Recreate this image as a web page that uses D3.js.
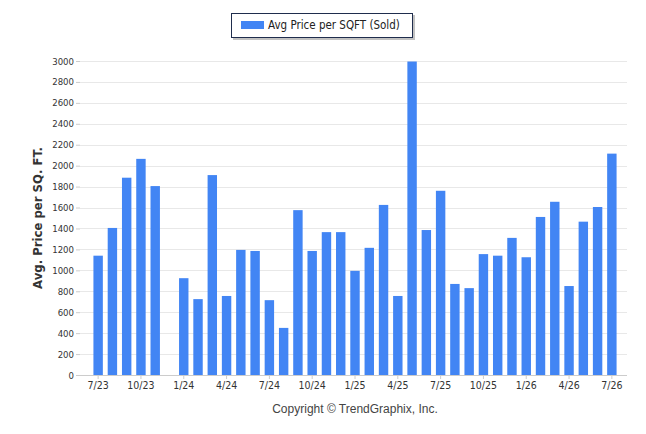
<!DOCTYPE html>
<html>
<head>
<meta charset="utf-8">
<script src="https://cdn.jsdelivr.net/npm/d3@7"></script>
<style>
    body { margin: 0; background: #fff; }
    svg text { font-family: Tahoma, "DejaVu Sans Condensed", "DejaVu Sans", sans-serif; }
</style>
</head>
<body>
<div id="chart"></div>
<script>
// monthly periods 7/23 .. 7/26
const months = [
    "7/23", "8/23", "9/23", "10/23", "11/23", "12/23",
    "1/24", "2/24", "3/24", "4/24", "5/24", "6/24", "7/24", "8/24", "9/24", "10/24", "11/24", "12/24",
    "1/25", "2/25", "3/25", "4/25", "5/25", "6/25", "7/25", "8/25", "9/25", "10/25", "11/25", "12/25",
    "1/26", "2/26", "3/26", "4/26", "5/26", "6/26", "7/26"
];
const avgPriceSold = [
    1140, 1405, 1885, 2065, 1805, null,
    925, 725, 1910, 755, 1195, 1185, 715, 450, 1575, 1185, 1365, 1365,
    995, 1215, 1625, 755, 2995, 1385, 1760, 870, 830, 1155, 1140, 1310,
    1125, 1510, 1655, 850, 1465, 1605, 2115
];
const xTickLabels = ["7/23", "10/23", "1/24", "4/24", "7/24", "10/24", "1/25", "4/25", "7/25", "10/25", "1/26", "4/26", "7/26"];
const yTicks = d3.range(0, 3001, 200);

const width = 646;
const height = 434;
const margin = { top: 61, right: 19, bottom: 59, left: 80 };
const barColor = "#4285f4";

const svg = d3.select("#chart")
    .append("svg")
    .attr("width", width)
    .attr("height", height)
    .attr("viewBox", [0, 0, width, height]);

const data = months.map((m, i) => ({ month: m, value: avgPriceSold[i] }));

const xScale = d3.scaleBand()
    .domain(months)
    .range([91, 619])
    .paddingInner(0.34)
    .paddingOuter(0.17);
const yScale = d3.scaleLinear()
    .domain([0, 3000])
    .range([height - margin.bottom, margin.top]);

// Gridlines + y axis
const yAxis = svg.append("g")
    .attr("transform", `translate(${margin.left},0)`)
    .call(d3.axisLeft(yScale).tickValues(yTicks).tickFormat(d3.format("d")).tickSize(4).tickPadding(2));
yAxis.select(".domain").remove();
yAxis.selectAll(".tick line").attr("stroke", "#ccc");
yAxis.selectAll(".tick text")
    .attr("fill", "#333")
    .style("font-size", "9.5px");

svg.append("g")
    .selectAll("line")
    .data(yTicks)
    .join("line")
    .attr("x1", margin.left)
    .attr("x2", width - margin.right)
    .attr("y1", (d) => Math.round(yScale(d)) + 0.5)
    .attr("y2", (d) => Math.round(yScale(d)) + 0.5)
    .attr("stroke", (d) => d === 0 ? "#ccc" : "#e8e8e8");

// Bars
svg.append("g")
    .selectAll("rect")
    .data(data.filter((d) => d.value !== null))
    .join("rect")
    .attr("x", (d) => xScale(d.month))
    .attr("width", xScale.bandwidth())
    .attr("y", (d) => yScale(d.value))
    .attr("height", (d) => yScale(0) - yScale(d.value))
    .attr("fill", barColor);

// x axis
const xAxis = svg.append("g")
    .attr("transform", `translate(0,${yScale(0)})`)
    .call(d3.axisBottom(xScale).tickValues(xTickLabels).tickSize(4).tickPadding(3));
xAxis.select(".domain").remove();
xAxis.selectAll(".tick line").attr("stroke", "#ccc");
xAxis.selectAll(".tick text")
    .attr("fill", "#333")
    .style("font-size", "10.5px");

// y label
svg.append("text")
    .attr("transform", `translate(42,${(yScale(0) + yScale(3000)) / 2}) rotate(270)`)
    .attr("text-anchor", "middle")
    .attr("fill", "#333")
    .style("font-size", "13px")
    .style("font-weight", "bold")
    .text("Avg. Price per SQ. FT.");

// Legend
const legend = svg.append("g");
legend.append("rect")
    .attr("x", 233)
    .attr("y", 15)
    .attr("width", 182)
    .attr("height", 25)
    .attr("fill", "#999")
    .attr("opacity", 0.6);
legend.append("rect")
    .attr("x", 231.5)
    .attr("y", 13.5)
    .attr("width", 181)
    .attr("height", 24)
    .attr("fill", "#fff")
    .attr("stroke", "#1f2d4d");
legend.append("rect")
    .attr("x", 241)
    .attr("y", 21)
    .attr("width", 23)
    .attr("height", 8)
    .attr("fill", barColor);
legend.append("text")
    .attr("x", 268)
    .attr("y", 29)
    .attr("fill", "#222")
    .style("font-size", "11.5px")
    .text("Avg Price per SQFT (Sold)");

// Copyright
svg.append("text")
    .attr("x", 355)
    .attr("y", 413)
    .attr("text-anchor", "middle")
    .attr("fill", "#444")
    .style("font-family", "'Liberation Sans', Arial, sans-serif")
    .style("font-size", "12px")
    .text("Copyright © TrendGraphix, Inc.");
</script>
</body>
</html>
